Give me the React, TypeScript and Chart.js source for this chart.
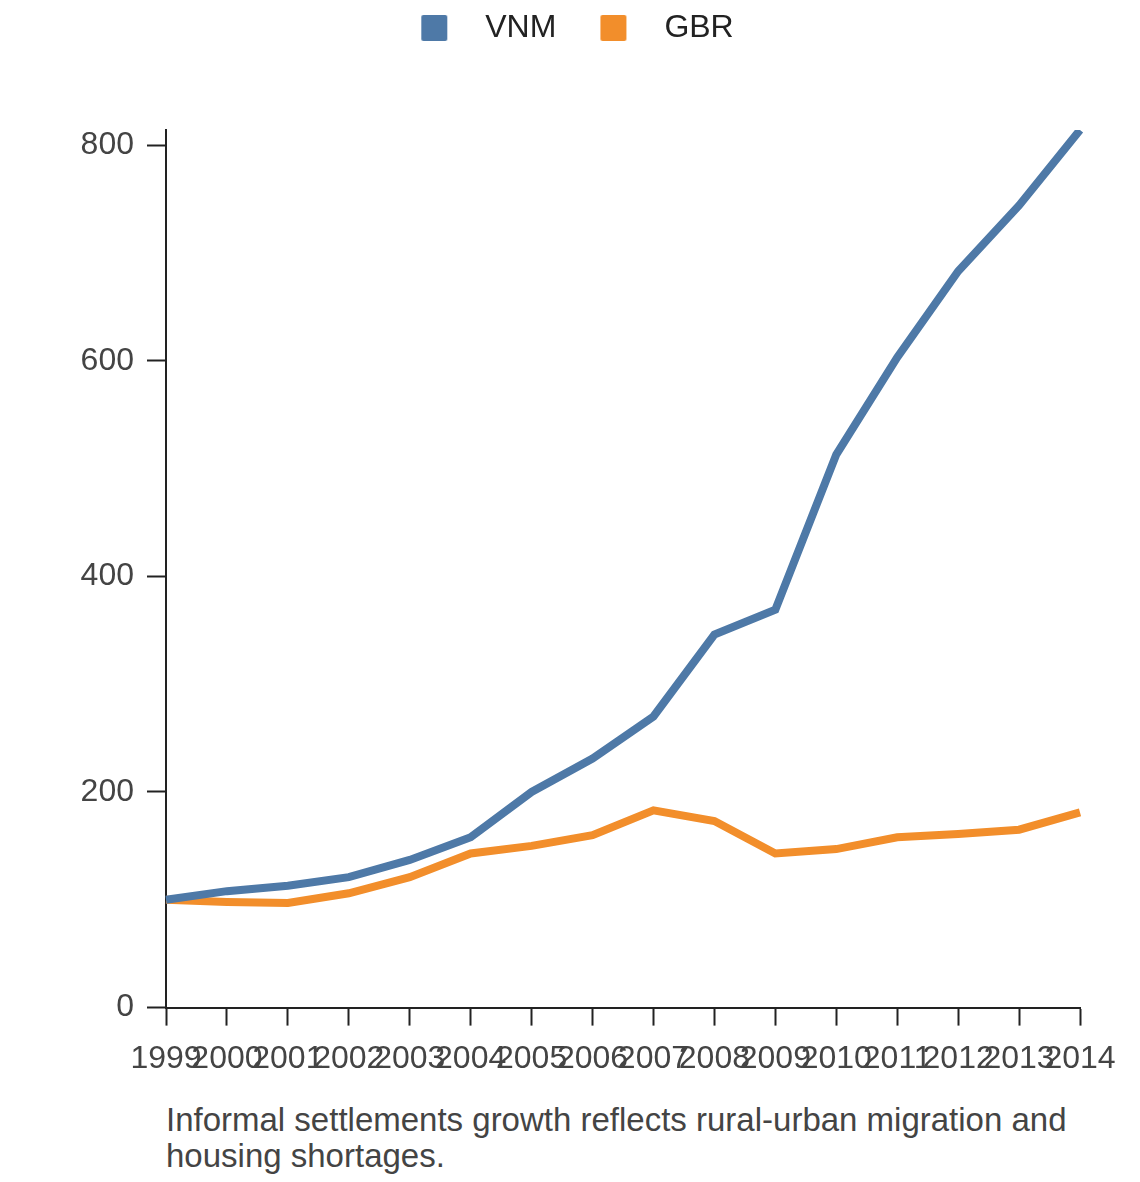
import React, { useEffect, useRef } from "react";
import { Chart, registerables } from "chart.js";

Chart.register(...registerables);

const years = [
    "1999", "2000", "2001", "2002", "2003", "2004", "2005", "2006",
    "2007", "2008", "2009", "2010", "2011", "2012", "2013", "2014",
];
const vnm = [100, 108, 113, 121, 137, 158, 200, 231, 270, 346, 369, 513, 603, 683, 744, 814];
const gbr = [100, 98, 97, 106, 121, 143, 150, 160, 183, 173, 143, 147, 158, 161, 165, 181];
const yTicks = [0, 200, 400, 600, 800];

const FONT = "'Liberation Sans', Arial, Helvetica, sans-serif";
const BLUE = "#4e79a7";
const ORANGE = "#f28e2b";
const AXIS = "#222";

// legend swatch with room on either side, so the gaps match the reference
function swatch(color: string) {
    const c = document.createElement("canvas");
    c.width = 88;
    c.height = 26;
    const ctx = c.getContext("2d")!;
    ctx.fillStyle = color;
    ctx.beginPath();
    ctx.roundRect(40, 0, 26, 26, 2);
    ctx.fill();
    return c;
}

const legendSpace = {
    id: "legendSpace",
    beforeInit(chart: any) {
        const fit = chart.legend.fit;
        chart.legend.fit = function () {
            fit.bind(chart.legend)();
            this.height += 76;
        };
    },
};

export default function App() {
    const ref = useRef<HTMLCanvasElement | null>(null);

    useEffect(() => {
        if (!ref.current) return;

        const chart = new Chart(ref.current, {
            type: "line",
            data: {
                labels: years,
                datasets: [
                    {
                        label: "VNM",
                        data: vnm,
                        borderColor: BLUE,
                        backgroundColor: BLUE,
                        borderWidth: 8,
                        pointRadius: 0,
                        pointStyle: swatch(BLUE),
                        tension: 0,
                    },
                    {
                        label: "GBR",
                        data: gbr,
                        borderColor: ORANGE,
                        backgroundColor: ORANGE,
                        borderWidth: 8,
                        pointRadius: 0,
                        pointStyle: swatch(ORANGE),
                        tension: 0,
                    },
                ],
            },
            plugins: [legendSpace],
            options: {
                animation: false,
                responsive: true,
                maintainAspectRatio: false,
                layout: { padding: { left: 27, right: 52, top: 0, bottom: 7 } },
                plugins: {
                    legend: {
                        position: "top",
                        labels: {
                            usePointStyle: true,
                            pointStyleWidth: 88,
                            boxHeight: 26,
                            padding: 4,
                            color: AXIS,
                            font: { family: FONT, size: 32 },
                        },
                    },
                    tooltip: { enabled: false },
                },
                scales: {
                    x: {
                        offset: false,
                        grid: {
                            display: true,
                            drawOnChartArea: false,
                            offset: false,
                            tickLength: 18,
                            tickWidth: 2,
                            tickColor: AXIS,
                        },
                        border: { display: true, color: AXIS, width: 2 },
                        ticks: {
                            autoSkip: false,
                            maxRotation: 0,
                            minRotation: 0,
                            padding: 14,
                            color: "#444",
                            font: { family: FONT, size: 32 },
                        },
                    },
                    y: {
                        min: 0,
                        max: Math.max(...vnm),
                        afterFit: (scale) => {
                            scale.width = 131;
                        },
                        afterBuildTicks: (scale) => {
                            scale.ticks = yTicks.map((v) => ({ value: v }));
                        },
                        grid: {
                            display: true,
                            drawOnChartArea: false,
                            tickLength: 19,
                            tickWidth: 2,
                            tickColor: AXIS,
                        },
                        border: { display: true, color: AXIS, width: 2 },
                        ticks: {
                            padding: 13,
                            color: "#444",
                            font: { family: FONT, size: 32 },
                        },
                    },
                },
            },
        });

        return () => chart.destroy();
    }, []);

    return (
        <div style={{ width: 1124 }}>
            <div style={{ position: "relative", width: 1124, height: 1091 }}>
                <canvas ref={ref} />
            </div>
            <div
                style={{
                    marginTop: 3,
                    paddingLeft: 158,
                    width: 940,
                    fontFamily: FONT,
                    fontSize: 33,
                    lineHeight: "36px",
                    color: "#444",
                }}
            >
                Informal settlements growth reflects rural-urban migration and
                housing shortages.
            </div>
        </div>
    );
}
